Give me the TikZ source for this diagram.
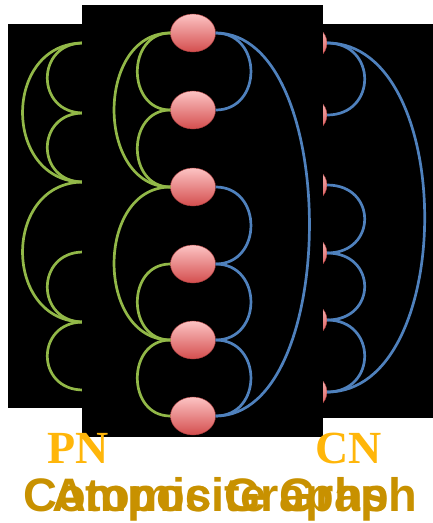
\documentclass[tikz,border=0pt]{standalone}
\usepackage{fontspec}
\setmainfont{Liberation Serif}
\newfontfamily\labsans{Liberation Sans}
\usetikzlibrary{shapes.geometric}
\definecolor{gedge}{RGB}{146,184,72}
\definecolor{bedge}{RGB}{79,129,189}
\definecolor{ntop}{RGB}{252,195,195}
\definecolor{nmid}{RGB}{238,112,112}
\definecolor{nbot}{RGB}{212,78,78}
\definecolor{pncol}{RGB}{255,182,10}
\definecolor{titlecol}{RGB}{200,145,0}
\begin{document}
\begin{tikzpicture}[x=1pt,y=-1pt,
  vert/.style={ellipse, minimum width=45pt, minimum height=38pt, inner sep=0pt,
    top color=ntop, middle color=nmid, bottom color=nbot, draw=nbot!80!black, line width=0.4pt},
  gl/.style={draw=gedge, line width=2.7pt},
  bl/.style={draw=bedge, line width=2.7pt},
  panel/.style={fill=black},
  lbl/.style={font=\fontsize{46}{50}\selectfont\bfseries, text=pncol, anchor=base, inner sep=0pt},
  ttl/.style={font=\labsans\fontsize{47}{52}\selectfont\bfseries, text=titlecol, anchor=base, inner sep=0pt}]
\useasboundingbox (0,0) rectangle (433,523);

% ---- left panel (PN) ----
\fill[panel] (8,24) rectangle (200,408);
\foreach \i/\y in {1/43,2/113,3/182,4/252,5/322,6/390}
  \node[vert] (l\i) at (106,\y) {};
\draw[gl] (l1.west) to[out=180,in=180,distance=48pt] (l2.west);
\draw[gl] (l2.west) to[out=180,in=180,distance=48pt] (l3.west);
\draw[gl] (l1.west) to[out=180,in=180,distance=81pt] (l3.west);
\draw[gl] (l3.west) to[out=180,in=180,distance=81pt] (l5.west);
\draw[gl] (l4.west) to[out=180,in=180,distance=48pt] (l5.west);
\draw[gl] (l5.west) to[out=180,in=180,distance=48pt] (l6.west);

% ---- right panel (CN) ----
\fill[panel] (200,24) rectangle (433,418);
\foreach \i/\y in {1/43,2/115,3/185,4/253,5/320,6/392}
  \node[vert] (r\i) at (304.5,\y) {};
\draw[bl] (r1.east) to[out=0,in=0,distance=50pt] (r2.east);
\draw[bl] (r3.east) to[out=0,in=0,distance=50pt] (r4.east);
\draw[bl] (r4.east) to[out=0,in=0,distance=50pt] (r5.east);
\draw[bl] (r5.east) to[out=0,in=0,distance=50pt] (r6.east);
\draw[bl] (r1.east) to[out=0,in=0,distance=130pt] (r6.east);

% ---- middle panel (composite) ----
\fill[panel] (82,5) rectangle (323,437);
\foreach \i/\y in {1/33,2/110,3/187,4/264,5/340,6/416}
  \node[vert] (m\i) at (193,\y) {};
\draw[gl] (m1.west) to[out=180,in=180,distance=44pt] (m2.west);
\draw[gl] (m2.west) to[out=180,in=180,distance=44pt] (m3.west);
\draw[gl] (m1.west) to[out=180,in=180,distance=75pt] (m3.west);
\draw[gl] (m3.west) to[out=180,in=180,distance=75pt] (m5.west);
\draw[gl] (m4.west) to[out=180,in=180,distance=44pt] (m5.west);
\draw[gl] (m5.west) to[out=180,in=180,distance=44pt] (m6.west);
\draw[bl] (m1.east) to[out=0,in=0,distance=47pt] (m2.east);
\draw[bl] (m3.east) to[out=0,in=0,distance=47pt] (m4.east);
\draw[bl] (m4.east) to[out=0,in=0,distance=47pt] (m5.east);
\draw[bl] (m5.east) to[out=0,in=0,distance=47pt] (m6.east);
\draw[bl] (m1.east) to[out=0,in=0,distance=125pt] (m6.east);

% ---- labels ----
\node[lbl] (pn) at (78,463) {PN};
\node[lbl] (cn) at (349,463) {CN};
\node[ttl] (comp) at (220.5,511) {Composite Graph};
\node[ttl] (atom) at (220.5,511) {Atomic Graphs};
\end{tikzpicture}
\end{document}
